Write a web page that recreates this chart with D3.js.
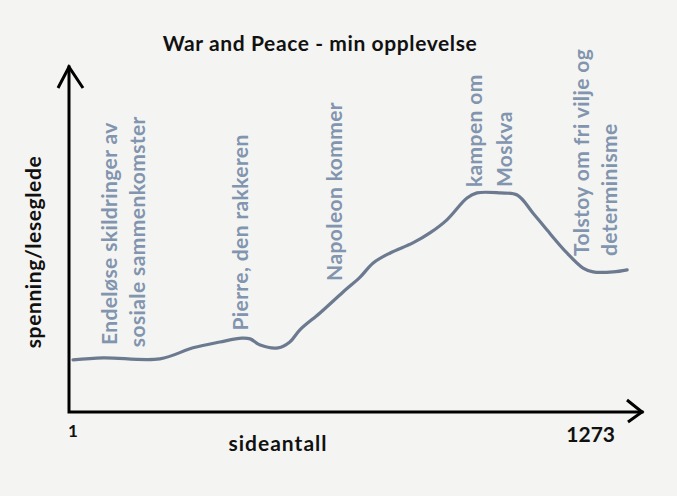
<!DOCTYPE html>
<html>
<head>
<meta charset="utf-8">
<script src="https://cdn.jsdelivr.net/npm/d3@7"></script>
<style>
  html, body { margin: 0; padding: 0; background: #f4f4f2; }
  svg { display: block; }
</style>
</head>
<body>
<svg id="chart" width="677" height="496"></svg>
<script>
// ---- data ----
const pages = [1, 70, 200, 276, 338, 388, 407, 430, 471, 498, 521, 567, 620, 659, 689, 728, 780, 819, 858, 904, 927, 980, 1019, 1055, 1087, 1133, 1170, 1193, 1239, 1271];
const spenning = [15.1, 15.7, 15.4, 18.6, 20.3, 21.4, 21.2, 19.4, 18.6, 20.3, 23.8, 28.7, 34.8, 39.1, 43.2, 46.1, 49.0, 51.9, 55.7, 62.0, 63.5, 63.5, 62.9, 57.7, 52.8, 46.1, 41.7, 40.6, 40.6, 41.2];
const xTickLabels = ["1", "1273"];
const xTickValues = [1, 1273];
const annotationLines = ["Endeløse skildringer av", "sosiale sammenkomster", "Pierre, den rakkeren", "Napoleon kommer", "kampen om", "Moskva", "Tolstoy om fri vilje og", "determinisme"];
const annotationPages = [102, 166, 401, 618, 938, 1007, 1183, 1247];
const annotationValues = [19.4, 18.8, 23.6, 38.0, 65.2, 65.2, 45.2, 45.2];
const titleText = "War and Peace - min opplevelse";
const xLabel = "sideantall";
const yLabel = "spenning/leseglede";

// ---- layout ----
const svg = d3.select("#chart");
const x = d3.scaleLinear().domain([1, 1273]).range([73, 628]);
const y = d3.scaleLinear().domain([0, 100]).range([412, 67]);
const axisX0 = 69, axisY0 = 412, xEnd = 642, yEnd = 67;

const labelColor = "#8295af";
const lineColor = "#6c7a90";
const font = "Lato, 'Open Sans', sans-serif";

// title
svg.append("text")
  .attr("x", 320).attr("y", 51)
  .attr("text-anchor", "middle")
  .attr("font-family", font).attr("font-weight", "bold")
  .attr("font-size", 21).attr("letter-spacing", 0.6).attr("fill", "#111")
  .text(titleText);

// axes
const axes = svg.append("g").attr("stroke", "#000").attr("stroke-width", 3)
  .attr("fill", "none").attr("stroke-linecap", "square").attr("stroke-linejoin", "miter");
axes.append("path").attr("d", `M${axisX0},${yEnd} L${axisX0},${axisY0} L${xEnd},${axisY0}`);
axes.append("path").attr("d", `M${axisX0 - 11},${yEnd + 21} L${axisX0},${yEnd} L${axisX0 + 14},${yEnd + 21}`)
  .attr("stroke-linecap", "butt");
axes.append("path").attr("d", `M${xEnd - 15},${axisY0 - 12} L${xEnd},${axisY0} L${xEnd - 14},${axisY0 + 10}`)
  .attr("stroke-linecap", "butt");

// x tick labels
svg.selectAll("text.tick").data(xTickValues).enter().append("text")
  .attr("class", "tick")
  .attr("x", (d, i) => i === 0 ? x(d) : x(d) - 13)
  .attr("y", (d, i) => i === 0 ? 437 : 442)
  .attr("text-anchor", (d, i) => i === 0 ? "middle" : "end")
  .attr("font-family", font).attr("font-weight", "bold")
  .attr("font-size", (d, i) => i === 0 ? 17 : 21).attr("fill", "#111")
  .text((d, i) => xTickLabels[i]);

// axis titles
svg.append("text")
  .attr("x", 278).attr("y", 451)
  .attr("text-anchor", "middle")
  .attr("font-family", font).attr("font-weight", "bold")
  .attr("font-size", 21).attr("letter-spacing", 1).attr("fill", "#111")
  .text(xLabel);

svg.append("text")
  .attr("transform", "translate(41,252) rotate(-90)")
  .attr("text-anchor", "middle")
  .attr("font-family", font).attr("font-weight", "bold")
  .attr("font-size", 21).attr("letter-spacing", 0.6).attr("fill", "#111")
  .text(yLabel);

// curve
const line = d3.line()
  .x((d, i) => x(pages[i]))
  .y((d, i) => y(spenning[i]))
  .curve(d3.curveCatmullRom.alpha(0.5));
svg.append("path")
  .datum(spenning)
  .attr("d", line)
  .attr("fill", "none")
  .attr("stroke", lineColor)
  .attr("stroke-width", 3.2)
  .attr("stroke-linejoin", "round")
  .attr("stroke-linecap", "round");

// annotations
svg.selectAll("text.ann").data(annotationLines).enter().append("text")
  .attr("class", "ann")
  .attr("transform", (d, i) => `translate(${x(annotationPages[i])},${y(annotationValues[i])}) rotate(-90)`)
  .attr("font-family", font).attr("font-weight", "bold")
  .attr("font-size", 21).attr("letter-spacing", 0.4).attr("fill", labelColor)
  .text(d => d);
</script>
</body>
</html>
